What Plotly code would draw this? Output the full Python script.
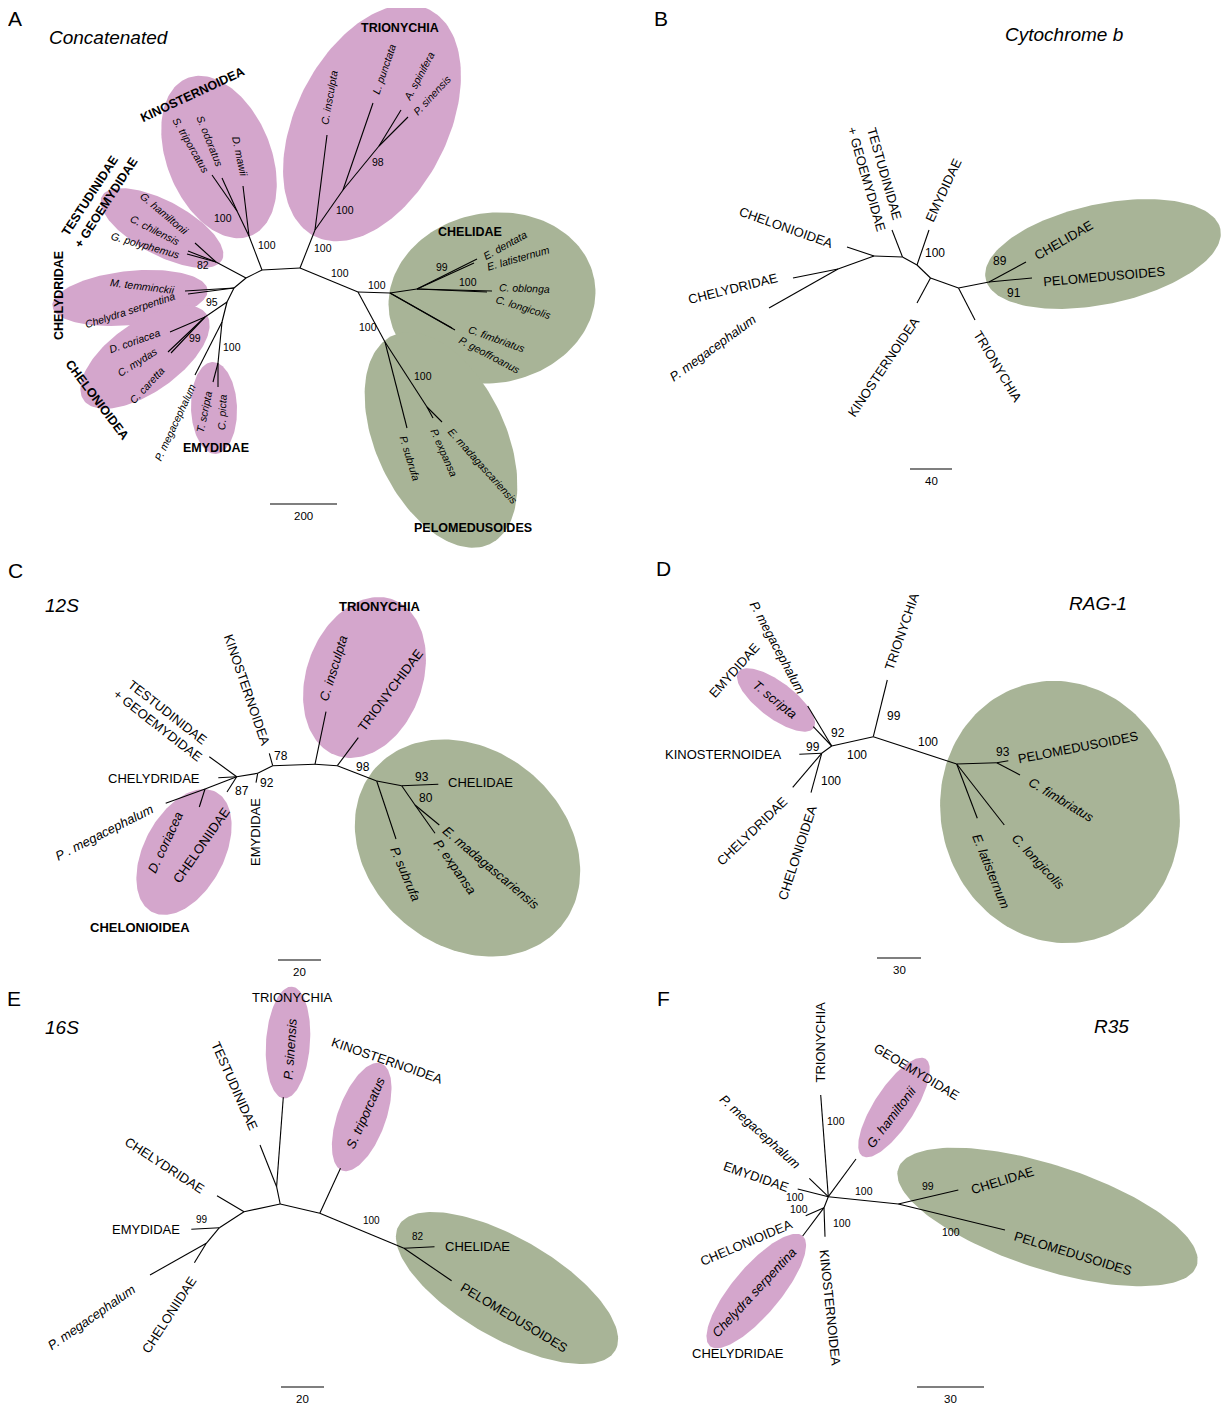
import numpy as np
import plotly.graph_objects as go

PINK = "#D4A6CC"
GREEN = "#A8B497"
FONT = "Liberation Sans, Arial, sans-serif"

# ---------------- Panel A : Concatenated ----------------
A_nodes = {
    "c1": (300, 268), "c2": (262, 270), "c3": (246, 278), "c4": (234, 288), "c5": (227, 302), "c6": (222, 322),
    "k1": (249, 236), "k2": (237, 211), "Dmaw": (243, 186), "Sodo": (222, 178), "Stri": (212, 175),
    "t1": (216, 262), "Gham": (195, 243), "Cchi": (188, 251), "Gpol": (187, 254),
    "Mtem": (185, 291), "Cser": (188, 294),
    "ch1": (205, 317), "Dcor": (170, 332), "Cmyd": (168, 352), "Ccar": (171, 353),
    "e1": (218, 363), "Tscr": (213, 382), "Cpic": (218, 387), "Pmeg": (195, 375),
    "tr1": (315, 230), "Cins": (327, 135), "tr2": (343, 190), "Lpun": (373, 103),
    "tr3": (379, 146), "Aspi": (401, 110), "Psin": (408, 117),
    "p1": (358, 292), "chn": (390, 293), "chn2": (417, 289), "Eden": (474, 263), "Elat": (477, 259),
    "Cobl": (487, 292), "Clon": (492, 291), "Cfim": (452, 328), "Pgeo": (455, 330),
    "pe1": (385, 342), "Psub": (407, 428), "pe2": (427, 407), "Emad": (442, 422), "Pexp": (433, 418),
}
A_edges = [("c1", "c2"), ("c2", "c3"), ("c3", "c4"), ("c4", "c5"), ("c5", "c6"),
           ("c2", "k1"), ("k1", "Dmaw"), ("k1", "k2"), ("k2", "Sodo"), ("k2", "Stri"),
           ("c3", "t1"), ("t1", "Gham"), ("t1", "Cchi"), ("t1", "Gpol"),
           ("c4", "Mtem"), ("c4", "Cser"),
           ("c5", "ch1"), ("ch1", "Dcor"), ("ch1", "Cmyd"), ("ch1", "Ccar"),
           ("c6", "e1"), ("e1", "Tscr"), ("e1", "Cpic"), ("c6", "Pmeg"),
           ("c1", "tr1"), ("tr1", "Cins"), ("tr1", "tr2"), ("tr2", "Lpun"), ("tr2", "tr3"),
           ("tr3", "Aspi"), ("tr3", "Psin"),
           ("c1", "p1"), ("p1", "chn"), ("chn", "chn2"), ("chn2", "Eden"), ("chn2", "Elat"),
           ("chn2", "Cobl"), ("chn2", "Clon"), ("chn", "Cfim"), ("chn", "Pgeo"),
           ("p1", "pe1"), ("pe1", "Psub"), ("pe1", "pe2"), ("pe2", "Emad"), ("pe2", "Pexp")]
A_support = ["100", "100", "82", "95", "99", "100", "100", "100", "98", "100", "100", "99", "100", "100", "100"]
A_support_pos = [(223, 218), (267, 245), (203, 265), (212, 302), (195, 338), (232, 347), (323, 248),
                 (345, 210), (378, 162), (340, 273), (377, 285), (442, 267), (468, 282), (368, 327), (423, 376)]
A_labels = ["KINOSTERNOIDEA", "S. triporcatus", "S. odoratus", "D. mawii", "TESTUDINIDAE", "+ GEOEMYDIDAE",
            "G. hamiltonii", "C. chilensis", "G. polyphemus", "CHELYDRIDAE", "M. temminckii",
            "Chelydra serpentina", "CHELONIOIDEA", "D. coriacea", "C. mydas", "C. caretta",
            "P. megacephalum", "EMYDIDAE", "T. scripta", "C. picta", "C. insculpta", "L. punctata",
            "A. spinifera", "P. sinensis", "TRIONYCHIA", "CHELIDAE", "E. dentata", "E. latisternum",
            "C. oblonga", "C. longicolis", "C. fimbriatus", "P. geoffroanus", "P. subrufa", "P. expansa",
            "E. madagascariensis", "PELOMEDUSOIDES"]
A_label_pos = [(192, 95, -25), (191, 145, 60), (210, 141, 68), (240, 156, 78), (90, 196, -57), (106, 203, -57),
               (164, 213, 40), (155, 230, 27), (145, 245, 16), (59, 296, -90), (142, 286, 7),
               (130, 310, -18), (97, 400, 53), (134, 341, -19), (137, 362, -32), (147, 385, -47),
               (175, 422, -65), (216, 448, 0), (204, 412, -78), (222, 412, -88), (329, 98, -80), (384, 69, -71),
               (419, 76, -62), (432, 95, -47), (400, 28, 0), (470, 232, 0), (505, 245, -29), (518, 258, -16),
               (524, 288, 2), (523, 307, 17), (497, 339, 20), (490, 355, 28), (410, 458, 73), (444, 452, 66),
               (483, 466, 48), (473, 528, 0)]
A_ellipses = [(219, 157, 85, 52, 68, PINK), (162, 228, 68, 27, 28, PINK), (130, 298, 78, 27, -6, PINK),
              (145, 357, 75, 35, -35, PINK), (214, 408, 46, 23, 88, PINK), (372, 123, 127, 76, -63, PINK),
              (492, 298, 104, 85, -10, GREEN), (441, 440, 115, 65, 65, GREEN)]

# ---------------- Panel B : Cytochrome b ----------------
B_nodes = {"b0": (838, 269), "b1": (874, 256), "b2": (902.5, 257), "b3": (917, 265), "b4": (930.5, 278),
           "b5": (958.5, 288), "b6": (989, 282),
           "Chelon": (847, 247), "Chely": (793, 278), "Pmeg": (769, 308), "Test": (892, 230),
           "Emyd": (929, 230), "Kin": (917, 303), "Trio": (975, 320), "Cheli": (1026, 262), "Pelo": (1032, 278)}
B_edges = [("Chelon", "b1"), ("b1", "b0"), ("b0", "Chely"), ("b0", "Pmeg"), ("b1", "b2"), ("b2", "Test"),
           ("b2", "b3"), ("b3", "Emyd"), ("b3", "b4"), ("b4", "Kin"), ("b4", "b5"), ("b5", "Trio"),
           ("b5", "b6"), ("b6", "Cheli"), ("b6", "Pelo")]
B_support = ["100", "89", "91"]
B_support_pos = [(935, 253), (1000, 261), (1014, 293)]
B_labels = ["TESTUDINIDAE", "+ GEOEMYDIDAE", "EMYDIDAE", "CHELONIOIDEA", "CHELYDRIDAE", "<i>P. megacephalum</i>",
            "KINOSTERNOIDEA", "TRIONYCHIA", "CHELIDAE", "PELOMEDUSOIDES"]
B_label_pos = [(885, 174, 74), (867, 179, 74), (943, 190, -65), (786, 227, 19.5), (733, 288, -14),
               (712, 348, -36), (883, 367, -56), (998, 366, 59), (1063, 240, -30), (1104, 276, -5)]
B_ellipses = [(1103, 254, 120, 50, -12, GREEN)]

# ---------------- Panel C : 12S ----------------
C_nodes = {"ca": (236.7, 776.7), "Test": (209.3, 756.7), "Chely": (218.3, 777.7), "Pmeg": (165.7, 803.3),
           "cb": (205, 789), "Dcor": (199.3, 807), "Chelon": (227, 792),
           "cc": (257.7, 773.3), "Emyd": (256, 782.7), "cd": (272.7, 765.7), "Kin": (269.3, 753.3),
           "ce": (315, 764.3), "Cins": (326, 711.7), "cf": (337.3, 765.7), "Trnd": (358.3, 737.7),
           "cg": (376.7, 781), "Psub": (396, 839), "ch": (401.7, 785.7), "Cheli": (438.3, 784.3),
           "ci": (415, 805), "Emad": (439.3, 825), "Pexp": (435, 833.3)}
C_edges = [("Test", "ca"), ("Chely", "ca"), ("Pmeg", "cb"), ("cb", "ca"), ("cb", "Dcor"), ("Chelon", "ca"),
           ("ca", "cc"), ("cc", "Emyd"), ("cc", "cd"), ("cd", "Kin"), ("cd", "ce"), ("ce", "Cins"),
           ("ce", "cf"), ("cf", "Trnd"), ("cf", "cg"), ("cg", "Psub"), ("cg", "ch"), ("ch", "Cheli"),
           ("ch", "ci"), ("ci", "Emad"), ("ci", "Pexp")]
C_support = ["78", "92", "87", "98", "93", "80"]
C_support_pos = [(281, 756), (267, 783), (242, 791), (363, 767), (422, 777), (426, 798)]
C_labels = ["TESTUDINIDAE", "+ GEOEMYDIDAE", "CHELYDRIDAE", "KINOSTERNOIDEA", "<i>P . megacephalum</i>",
            "<i>D. coriacea</i>", "CHELONIIDAE", "EMYDIDAE", "<b>CHELONIOIDEA</b>", "<b>TRIONYCHIA</b>",
            "<i>C. insculpta</i>", "TRIONYCHIDAE", "CHELIDAE", "<i>E. madagascariensis</i>",
            "<i>P. expansa</i>", "<i>P. subrufa</i>"]
C_label_pos = [(168, 712, 38), (158, 725, 38), (154, 778, 0), (247.5, 690, 71), (104, 832, -27),
               (165, 842, -65), (201, 845, -55), (255, 832, -90), (140, 927, 0), (379.5, 606, 0),
               (333, 668, -73), (390, 690, -53), (480, 782, 0), (491, 867, 40), (455, 866, 55), (406, 874, 67)]
C_ellipses = [(184, 852, 68, 40, -62, PINK), (364.5, 677.5, 83, 58, -70, PINK), (467.5, 848, 122, 98, 40, GREEN)]

# ---------------- Panel D : RAG-1 ----------------
D_nodes = {"d1": (831.7, 746), "Pmeg": (807.7, 706), "Tscr": (813.3, 726.7), "d0": (821.7, 753.3),
           "Kin": (799.3, 754.3), "Chely": (792.7, 787.3), "Chelon": (811, 792.7), "d2": (873.3, 736.7),
           "Trio": (887.3, 680), "d3": (956.7, 764), "d4": (996.7, 762.7), "Pelo": (1008.3, 760.7),
           "Cfim": (1020, 775), "Elat": (977.3, 818.3), "Clon": (1004.3, 825)}
D_edges = [("Pmeg", "d1"), ("Tscr", "d1"), ("d1", "d0"), ("d0", "Kin"), ("d0", "Chely"), ("d0", "Chelon"),
           ("d1", "d2"), ("d2", "Trio"), ("d2", "d3"), ("d3", "d4"), ("d4", "Pelo"), ("d4", "Cfim"),
           ("d3", "Elat"), ("d3", "Clon")]
D_support = ["92", "100", "99", "100", "99", "100", "93"]
D_support_pos = [(838, 733), (857, 755), (894, 716), (928, 742), (813, 747), (831, 781), (1003, 752)]
D_labels = ["<i>P. megacephalum</i>", "EMYDIDAE", "<i>T. scripta</i>", "TRIONYCHIA", "KINOSTERNOIDEA",
            "CHELYDRIDAE", "CHELONIOIDEA", "PELOMEDUSOIDES", "<i>C. fimbriatus</i>", "<i>C. longicolis</i>",
            "<i>E. latisternum</i>"]
D_label_pos = [(777.5, 647.5, 62), (734, 670, -48), (775, 699, 39), (901.5, 631, -71), (723.5, 754, 0),
               (751.7, 831, -44), (797.5, 852.5, -72), (1077.5, 747.5, -11), (1061, 799, 31),
               (1038, 861.7, 47), (991, 871.7, 68)]
D_ellipses = [(776, 700, 47, 18, 37, PINK), (1060, 812, 132, 119, 75, GREEN)]

# ---------------- Panel E : 16S ----------------
E_nodes = {"e1": (280.2, 1204), "e1a": (276.6, 1186.7), "Psin": (283.3, 1097.3), "Test": (260, 1145),
           "e2": (244, 1211.7), "Chely": (217, 1195.7), "e3": (219.4, 1227.7), "Emyd": (191.3, 1229.3),
           "e4": (206.3, 1243.3), "Pmeg": (150, 1275), "Chelon": (194.4, 1262.7),
           "e5": (319.8, 1213.3), "Stri": (340.5, 1168.3), "e6": (404, 1248.3),
           "Cheli": (434.5, 1246.7), "Pelo": (451.6, 1280.7)}
E_edges = [("Psin", "e1a"), ("Test", "e1a"), ("e1a", "e1"), ("e1", "e2"), ("e2", "Chely"), ("e2", "e3"),
           ("e3", "Emyd"), ("e3", "e4"), ("e4", "Pmeg"), ("e4", "Chelon"), ("e1", "e5"), ("e5", "Stri"),
           ("e5", "e6"), ("e6", "Cheli"), ("e6", "Pelo")]
E_support = ["99", "100", "82"]
E_support_pos = [(202.4, 1219.3), (371, 1220.7), (417.5, 1236.7)]
E_labels = ["TRIONYCHIA", "<i>P. sinensis</i>", "TESTUDINIDAE", "KINOSTERNOIDEA", "<i>S. triporcatus</i>",
            "CHELYDRIDAE", "EMYDIDAE", "<i>P. megacephalum</i>", "CHELONIIDAE", "CHELIDAE", "PELOMEDUSOIDES"]
E_label_pos = [(292.5, 997, 0), (289.7, 1049, -86), (235, 1086, 66), (387, 1060, 19), (365, 1113, -66),
               (165, 1165, 33), (145.5, 1229, 0), (91.3, 1317.5, -35), (168.6, 1315, -57),
               (477.8, 1246, 0), (513.9, 1317.5, 31)]
E_ellipses = [(288, 1042.5, 56, 22, -86, PINK), (361.7, 1117, 57, 24, -70, PINK),
              (507, 1288, 125, 50, 30, GREEN)]

# ---------------- Panel F : R35 ----------------
F_nodes = {"f1": (828.3, 1196.7), "Trio": (820.7, 1095), "Gham": (856, 1159), "Pmeg": (809.3, 1178.3),
           "Emyd": (797.7, 1189), "f2": (824, 1207.7), "Chelon": (805.7, 1215.7), "Chely": (802.7, 1236),
           "Kin": (825, 1236.7), "f3": (898.3, 1204), "Cheli": (958.3, 1190), "Pelo": (1005, 1230)}
F_edges = [("f1", "Trio"), ("f1", "Gham"), ("f1", "Pmeg"), ("f1", "Emyd"), ("f1", "f2"), ("f2", "Chelon"),
           ("f2", "Chely"), ("f2", "Kin"), ("f1", "f3"), ("f3", "Cheli"), ("f3", "Pelo")]
F_support = ["100", "100", "100", "100", "100", "99", "100"]
F_support_pos = [(835.7, 1120.7), (795, 1197.3), (799.3, 1209.3), (841.7, 1223.3), (864, 1191),
                 (928.3, 1186), (950.7, 1232.3)]
F_labels = ["TRIONYCHIA", "GEOEMYDIDAE", "<i>G. hamiltonii</i>", "<i>P. megacephalum</i>", "EMYDIDAE",
            "CHELONIOIDEA", "<i>Chelydra serpentina</i>", "CHELYDRIDAE", "KINOSTERNOIDEA", "CHELIDAE",
            "PELOMEDUSOIDES"]
F_label_pos = [(820, 1042.5, -90), (916, 1071.7, 31), (891, 1117.5, -53), (760, 1131, 42), (755.5, 1176.7, 19),
               (746.7, 1242.5, -23), (754, 1292.5, -47), (738, 1353, 0), (830, 1307.5, 84),
               (1002, 1180.5, -17), (1073, 1253, 17)]
F_ellipses = [(894, 1107.5, 58, 20, -57, PINK), (756.3, 1291, 72, 24, -50, PINK),
              (1047.5, 1217, 157, 52, 18, GREEN)]

# ---------------- titles, letters, scale bars ----------------
letters = ["A", "B", "C", "D", "E", "F"]
letter_pos = [(15, 18), (661, 18), (15, 570), (663, 568), (14, 998), (663, 998)]
titles = ["Concatenated", "Cytochrome b", "12S", "RAG-1", "16S", "R35"]
title_pos = [(109, 37), (1064, 34), (62, 605), (1098, 603), (61.5, 1027), (1111, 1026)]
scale_values = ["200", "40", "20", "30", "20", "30"]
scale_bars = [(270, 337, 504), (910, 952, 469), (278, 321, 960), (877, 921, 958), (281, 324, 1387),
              (917, 984, 1387)]

# page geometry: the browser page has an 8 px body margin, so the figure is
# shifted by that amount and the axis ranges start at 8 to keep page pixels = data units
W, H, OFF = 1232, 1404, 8

fig = go.Figure()


def add_ellipses(ells):
    t = np.linspace(0, 2 * np.pi, 160)
    for cx, cy, a, b, phi, col in ells:
        p = np.radians(phi)
        xs = cx + a * np.cos(t) * np.cos(p) - b * np.sin(t) * np.sin(p)
        ys = cy + a * np.cos(t) * np.sin(p) + b * np.sin(t) * np.cos(p)
        fig.add_trace(go.Scatter(x=xs, y=ys, mode="lines", fill="toself", fillcolor=col,
                                 line=dict(width=0, color=col), hoverinfo="skip", showlegend=False))


def add_tree(nodes, edges):
    xs, ys = [], []
    for u, v in edges:
        xs += [nodes[u][0], nodes[v][0], None]
        ys += [nodes[u][1], nodes[v][1], None]
    fig.add_trace(go.Scatter(x=xs, y=ys, mode="lines", line=dict(color="black", width=1.1),
                             hoverinfo="skip", showlegend=False))


annotations = []


def ann(text, x, y, angle=0, size=12, family=FONT, color="black"):
    annotations.append(dict(text=text, x=x, y=y, xref="x", yref="y", showarrow=False, textangle=angle,
                            xanchor="center", yanchor="middle", font=dict(family=family, size=size, color=color)))


for ells in [A_ellipses, B_ellipses, C_ellipses, D_ellipses, E_ellipses, F_ellipses]:
    add_ellipses(ells)
for nodes, edges in [(A_nodes, A_edges), (B_nodes, B_edges), (C_nodes, C_edges), (D_nodes, D_edges),
                     (E_nodes, E_edges), (F_nodes, F_edges)]:
    add_tree(nodes, edges)

# Panel A labels: capitals bold, species italic
for txt, (x, y, ang) in zip(A_labels, A_label_pos):
    if txt.replace("+ ", "").isupper():
        ann("<b>" + txt + "</b>", x, y, ang, 12.5)
    else:
        ann("<i>" + txt + "</i>", x, y, ang, 10.5)
for txt, (x, y) in zip(A_support, A_support_pos):
    ann(txt, x, y, 0, 10.5)

for labs, pos, sup, spos, lsize, ssize in [
        (B_labels, B_label_pos, B_support, B_support_pos, 13, 12),
        (C_labels, C_label_pos, C_support, C_support_pos, 13, 12),
        (D_labels, D_label_pos, D_support, D_support_pos, 13, 12),
        (E_labels, E_label_pos, E_support, E_support_pos, 13, 10),
        (F_labels, F_label_pos, F_support, F_support_pos, 13, 10.5)]:
    for txt, (x, y, ang) in zip(labs, pos):
        ann(txt, x, y, ang, lsize)
    for txt, (x, y) in zip(sup, spos):
        ann(txt, x, y, 0, ssize)

for txt, (x, y) in zip(letters, letter_pos):
    ann(txt, x, y, 0, 21)
for txt, (x, y) in zip(titles, title_pos):
    ann("<i>" + txt + "</i>", x, y, 0, 19)

sx, sy = [], []
for (x0, x1, y), val in zip(scale_bars, scale_values):
    sx += [x0, x1, None]
    sy += [y, y, None]
    ann(val, (x0 + x1) / 2, y + 12, 0, 11.5)
fig.add_trace(go.Scatter(x=sx, y=sy, mode="lines", line=dict(color="black", width=1.1),
                         hoverinfo="skip", showlegend=False))

fig.update_layout(
    width=W - OFF, height=H - OFF, margin=dict(l=0, r=0, t=0, b=0, pad=0),
    paper_bgcolor="white", plot_bgcolor="white", showlegend=False,
    xaxis=dict(range=[OFF, W], visible=False, fixedrange=True),
    yaxis=dict(range=[H, OFF], visible=False, fixedrange=True),
    annotations=annotations,
)
fig.write_html("out.html")
